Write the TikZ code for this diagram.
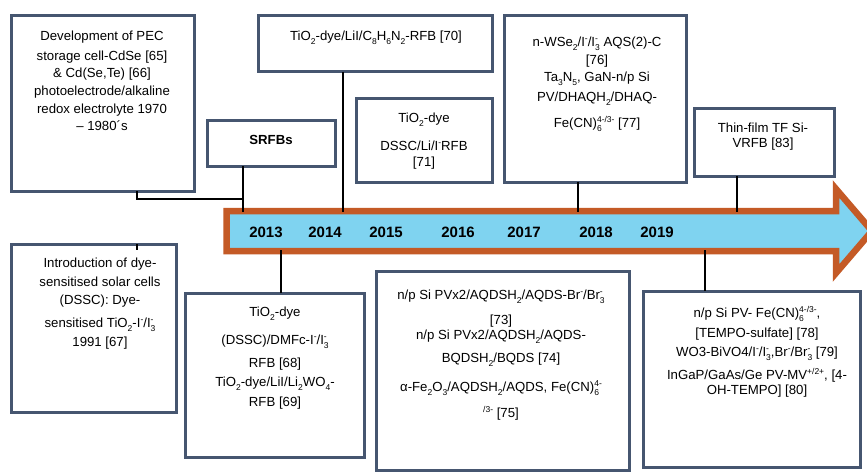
\documentclass[tikz,border=0pt]{standalone}
\usepackage{fontspec}
\setmainfont{Liberation Sans}
\usetikzlibrary{calc}
\definecolor{boxc}{HTML}{465670}
\definecolor{arrfill}{HTML}{7FD3F0}
\definecolor{arrline}{HTML}{C45A26}
\newcommand{\sbs}[1]{\raisebox{-4pt}{\fontsize{8.5}{8.5}\selectfont #1}}
\newcommand{\sps}[1]{\raisebox{5pt}{\fontsize{8.5}{8.5}\selectfont #1}}
\newlength{\sbwd}\newlength{\spwd}
\newcommand{\sbsp}[2]{\settowidth{\sbwd}{\sbs{#1}}\settowidth{\spwd}{\sps{#2}}\ifdim\sbwd>\spwd\spwd=\sbwd\fi\makebox[\spwd][l]{\rlap{\sbs{#1}}\sps{#2}}}
\newcommand{\fst}{\rule{0pt}{12pt}}
\tikzset{
  box/.style={draw=boxc, line width=3pt, fill=white, inner sep=0pt, outer sep=0pt, anchor=north west},
  txt/.style={inner sep=0pt, anchor=north, align=center, font=\fontsize{13.2}{17}\selectfont},
  yr/.style={inner sep=0pt, anchor=base, font=\fontsize{15}{15}\selectfont\bfseries},
  conn/.style={draw=black, line width=2pt},
}
\begin{document}
\begin{tikzpicture}[x=1pt,y=-1pt]
\useasboundingbox (0,0) rectangle (867,476);
\fill[white] (0,0) rectangle (867,476);
% arrow
\draw[fill=arrfill, draw=arrline, line width=6.5pt, line join=miter]
  (226.5,211) -- (836,211) -- (836,189) -- (872,231) -- (836,273) -- (836,251) -- (226.5,251) -- cycle;
% coordinates on the arrow
\coordinate (up13) at (243,212);
\coordinate (j13) at (243,199);
\coordinate (up14) at (343,212);
\coordinate (up18) at (578,212);
\coordinate (upF) at (737,212);
\coordinate (dn1) at (137,250);
\coordinate (dn2) at (281,250);
\coordinate (dn3) at (705,250);
% years
\node[yr] (y13) at (266,237.5) {2013};
\node[yr] (y14) at (325,237.5) {2014};
\node[yr] (y15) at (386,237.5) {2015};
\node[yr] (y16) at (458,237.5) {2016};
\node[yr] (y17) at (524,237.5) {2017};
\node[yr] (y18) at (596,237.5) {2018};
\node[yr] (y19) at (657,237.5) {2019};
% boxes
\node[box, minimum width=183pt, minimum height=175pt] (a) at (11,16) {};
\node[box, minimum width=128pt, minimum height=45pt] (b) at (207,121) {};
\node[box, minimum width=234pt, minimum height=56pt] (c) at (258,16) {};
\node[box, minimum width=136pt, minimum height=83pt] (d) at (356,99) {};
\node[box, minimum width=182pt, minimum height=166pt] (e) at (504,16) {};
\node[box, minimum width=140pt, minimum height=67pt] (f) at (694,109) {};
\node[box, minimum width=165pt, minimum height=168pt] (g) at (11,244) {};
\node[box, minimum width=179pt, minimum height=164pt] (h) at (185,293) {};
\node[box, minimum width=253pt, minimum height=199pt] (i) at (376,271) {};
\node[box, minimum width=217pt, minimum height=176pt] (j) at (643,291) {};
% connectors
\draw[conn] ([xshift=34.5pt]a.south) |- (j13);
\draw[conn] (b.south -| up13) -- (up13);
\draw[conn] (c.south -| up14) -- (up14);
\draw[conn] (e.south -| up18) -- (up18);
\draw[conn] (f.south -| upF) -- (upF);
\draw[conn] (g.north -| dn1) -- (dn1);
\draw[conn] (h.north -| dn2) -- (dn2);
\draw[conn] (j.north -| dn3) -- (dn3);
% texts (anchor north = first baseline - 12)
\node[txt] (ta) at (102,28) {\fst Development of PEC\\[3pt] storage cell-CdSe [65]\\ \& Cd(Se,Te) [66]\\[1pt] photoelectrode/alkaline\\[1pt] redox electrolyte 1970\\ – 1980´s};
\node[txt, anchor=base, font=\fontsize{13.2}{17}\selectfont\bfseries] (tb) at (271,144.5) {SRFBs};
\node[txt] (tc) at (376,28.5) {\fst TiO\sbs{2}-dye/LiI/C\sbs{8}H\sbs{6}N\sbs{2}-RFB [70]};
\node[txt] (td) at (424,110.5) {\fst TiO\sbs{2}-dye\\[11pt] DSSC/Li/I\sps{-}RFB\\[-1pt]{}[71]};
\node[txt] (te) at (597,34.5) {\fst n-WSe\sbs{2}/I\sps{-}/I\sbsp{3}{-} AQS(2)-C\\[1pt]{}[76]\\ Ta\sbs{3}N\sbs{5}, GaN-n/p Si\\[3pt] PV/DHAQH\sbs{2}/DHAQ-\\[9pt] Fe(CN)\sbsp{6}{4-/3-} [77]};
\node[txt] (tf) at (763,120.5) {\fst Thin-film TF Si-\\[-2pt] VRFB [83]};
\node[txt] (tg) at (100,255.5) {\fst Introduction of dye-\\[2pt] sensitised solar cells\\[1pt] (DSSC): Dye-\\[6pt] sensitised TiO\sbs{2}-I\sps{-}/I\sbsp{3}{-}\\[2pt] 1991 [67]};
\node[txt] (th) at (275,304.5) {\fst TiO\sbs{2}-dye\\[11pt] (DSSC)/DMFc-I\sps{-}/I\sbsp{3}{-}\\[6pt] RFB [68]\\[2pt] TiO\sbs{2}-dye/LiI/Li\sbs{2}WO\sbs{4}-\\[3pt] RFB [69]};
\node[txt] (ti) at (501,287.5) {\fst n/p Si PVx2/AQDSH\sbs{2}/AQDS-Br\sps{-}/Br\sbsp{3}{-}\\[8pt]{}[73]\\[-2pt] n/p Si PVx2/AQDSH\sbs{2}/AQDS-\\[6pt] BQDSH\sbs{2}/BQDS [74]\\[12pt] α-Fe\sbs{2}O\sbs{3}/AQDSH\sbs{2}/AQDS, Fe(CN)\sbsp{6}{4-}\\[9pt] \sps{/3-} [75]};
\node[txt] (tj) at (757,305.5) {\fst n/p Si PV- Fe(CN)\sbsp{6}{4-/3-},\\[3pt]{}[TEMPO-sulfate] [78]\\[2pt] WO3-BiVO4/I\sps{-}/I\sbsp{3}{-},Br\sps{-}/Br\sbsp{3}{-} [79]\\[6pt] InGaP/GaAs/Ge PV-MV\sps{+/2+}, [4-\\[-2pt] OH-TEMPO] [80]};
\end{tikzpicture}
\end{document}
